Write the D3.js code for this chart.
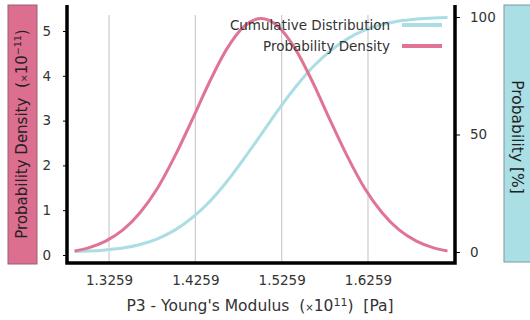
<!DOCTYPE html>
<html><head><meta charset="utf-8">
<script src="https://cdn.jsdelivr.net/npm/d3@7"></script>
<style>
html,body{margin:0;padding:0;background:#fff;}
svg{display:block;font-family:"DejaVu Sans",sans-serif;}
text{white-space:pre;}
</style></head>
<body>
<svg id="chart" width="530" height="320"></svg>
<script>
// Data
const xValues = [1.286,1.302,1.322,1.342,1.362,1.382,1.402,1.422,1.442,1.462,1.482,1.502,1.522,1.542,1.562,1.582,1.602,1.622,1.642,1.662,1.682,1.702,1.718];
const pdfValues = [0.09,0.16,0.31,0.56,0.95,1.49,2.20,3.01,3.85,4.59,5.10,5.28,5.10,4.59,3.85,3.01,2.20,1.49,0.95,0.56,0.31,0.16,0.09];
const cdfValues = [0.2,0.4,0.9,1.7,3.2,5.6,9.3,14.5,21.3,29.8,39.6,50.0,60.5,70.2,78.7,85.5,90.7,94.4,96.8,98.3,99.1,99.6,99.8];
const xTicks = [1.3259,1.4259,1.5259,1.6259];
const leftTicks = [0,1,2,3,4,5];
const rightTicks = [0,50,100];
const seriesNames = ["Cumulative Distribution","Probability Density"];

const pink = "#e07494", cyan = "#aadde4";
const svg = d3.select("#chart");
const L = 67, R = 455, T = 5, B = 263;

const x = d3.scaleLinear().domain([1.2772,1.7267]).range([L,R]);
const yL = d3.scaleLinear().domain([0,5]).range([255,31]);
const yR = d3.scaleLinear().domain([0,100]).range([252,17]);

// grid
svg.append("g").selectAll("line").data(xTicks).join("line")
  .attr("x1",d=>x(d)).attr("x2",d=>x(d)).attr("y1",T+10).attr("y2",B)
  .attr("stroke","#cccccc").attr("stroke-width",1.2);

// axis label boxes
svg.append("rect").attr("x",8).attr("y",5).attr("width",29).attr("height",259)
  .attr("fill","#dc6f8f").attr("stroke","#9a6070").attr("stroke-width",1);
svg.append("rect").attr("x",504).attr("y",5).attr("width",40).attr("height",257)
  .attr("fill","#aadfe5").attr("stroke","#7a9a9e").attr("stroke-width",1);

const tl = svg.append("text").attr("transform","translate(27,134) rotate(-90)")
  .attr("text-anchor","middle").attr("font-size",15).attr("fill","#222");
tl.append("tspan").text("Probability Density  (");
tl.append("tspan").attr("font-size",9.5).text("×");
tl.append("tspan").text("10");
tl.append("tspan").attr("font-size",9.5).attr("dy",-6).text("−11");
tl.append("tspan").attr("dy",6).text(")");

svg.append("text").attr("transform","translate(512,137) rotate(90)")
  .attr("text-anchor","middle").attr("font-size",15.5).attr("fill","#222")
  .text("Probability [%]");

// curves
const lineC = d3.line().x((d,i)=>x(xValues[i])).y(d=>yR(d)).curve(d3.curveMonotoneX);
const lineP = d3.line().x((d,i)=>x(xValues[i])).y(d=>yL(d)).curve(d3.curveMonotoneX);
svg.append("path").datum(cdfValues).attr("d",lineC).attr("fill","none")
  .attr("stroke",cyan).attr("stroke-width",3);
svg.append("path").datum(pdfValues).attr("d",lineP).attr("fill","none")
  .attr("stroke",pink).attr("stroke-width",3);

// axes
const axL = svg.append("g").attr("transform",`translate(${L},0)`)
  .call(d3.axisLeft(yL).tickValues(leftTicks).tickSize(4).tickPadding(12).tickFormat(d3.format("d")));
const axR = svg.append("g").attr("transform",`translate(${R},0)`)
  .call(d3.axisRight(yR).tickValues(rightTicks).tickSize(5).tickPadding(10).tickFormat(d3.format("d")));
const axB = svg.append("g").attr("transform",`translate(0,${B})`)
  .call(d3.axisBottom(x).tickValues(xTicks).tickSize(0).tickPadding(12).tickFormat(d3.format(".4f")));
[axL,axR,axB].forEach(a=>{
  a.select(".domain").remove();
  a.selectAll("text").attr("font-size",13.5).attr("fill","#333").attr("font-family","DejaVu Sans");
  a.selectAll("line").attr("stroke","#000");
});

// frame lines
svg.append("path").attr("d",`M${L},${T}V${B}H${R}V${T}`).attr("fill","none")
  .attr("stroke","#000").attr("stroke-width",3.5);

// x title
const xt = svg.append("text").attr("x",260).attr("y",311).attr("text-anchor","middle")
  .attr("font-size",15.5).attr("fill","#333");
xt.append("tspan").text("P3 - Young's Modulus  (");
xt.append("tspan").attr("font-size",10).text("×");
xt.append("tspan").text("10");
xt.append("tspan").attr("font-size",11).attr("dy",-5).text("11");
xt.append("tspan").attr("dy",5).text(")  [Pa]");

// legend
const leg = svg.append("g");
seriesNames.forEach((n,i)=>{
  const yy = 25 + i*21;
  leg.append("text").attr("x",390).attr("y",yy).attr("dy","0.35em").attr("text-anchor","end")
    .attr("font-size",13.5).attr("fill","#333").text(n);
  leg.append("line").attr("x1",402).attr("x2",442).attr("y1",yy).attr("y2",yy)
    .attr("stroke",i===0?cyan:pink).attr("stroke-width",4);
});
</script>
</body></html>
